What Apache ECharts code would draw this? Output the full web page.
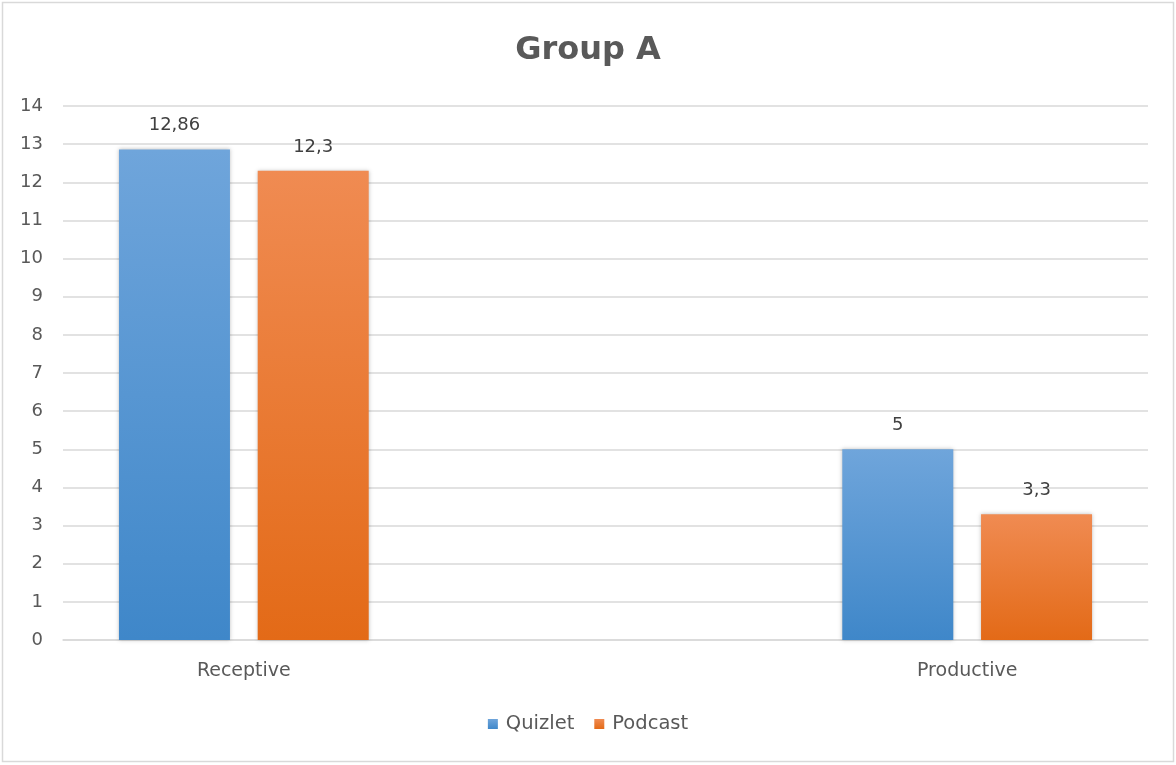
<!DOCTYPE html>
<html>
<head>
<meta charset="utf-8">
<style>
  html, body { margin: 0; padding: 0; background: #fff; }
  #chart { width: 1176px; height: 765px; }
</style>
<script src="https://cdn.jsdelivr.net/npm/echarts@6/dist/echarts.min.js"></script>
</head>
<body>
<div id="chart"></div>
<script>
// Categories (the middle slot is an empty spacer category)
const categories = ['Receptive', '', 'Productive'];
const quizlet = [12.86, null, 5];
const podcast = [12.3, null, 3.3];
const seriesNames = ['Quizlet', 'Podcast'];

const FONT = 'DejaVu Sans';

function grad(top, bottom) {
  return new echarts.graphic.LinearGradient(0, 0, 0, 1, [
    { offset: 0, color: top },
    { offset: 1, color: bottom }
  ]);
}

const labelStyle = {
  show: true,
  position: 'top',
  distance: 15,
  color: '#404040',
  fontFamily: FONT,
  fontSize: 18,
  formatter: p => String(p.value).replace('.', ',')
};

const chart = echarts.init(document.getElementById('chart'));
chart.setOption({
  backgroundColor: '#fff',
  animation: false,
  graphic: [{
    type: 'rect',
    shape: { x: 2.5, y: 2.5, width: 1171, height: 759 },
    style: { fill: 'none', stroke: '#d9d9d9', lineWidth: 1.5 },
    silent: true
  }],
  title: {
    text: 'Group A',
    left: 'center',
    top: 30,
    textStyle: { fontFamily: FONT, fontSize: 32, fontWeight: 'bold', color: '#595959' }
  },
  legend: {
    data: seriesNames,
    bottom: 26,
    left: 'center',
    icon: 'rect',
    itemWidth: 10,
    itemHeight: 10,
    itemGap: 20,
    textStyle: { fontFamily: FONT, fontSize: 19.5, color: '#595959', padding: [0, 0, 0, 3] }
  },
  grid: { left: 63, right: 28, top: 106, bottom: 125, containLabel: false },
  xAxis: {
    type: 'category',
    data: categories,
    axisTick: { show: false },
    axisLine: { lineStyle: { color: '#d9d9d9', width: 1.5 } },
    axisLabel: { fontFamily: FONT, fontSize: 19, color: '#595959', margin: 22 }
  },
  yAxis: {
    type: 'value',
    min: 0,
    max: 14,
    interval: 1,
    axisLine: { show: false },
    axisTick: { show: false },
    splitLine: { lineStyle: { color: '#d9d9d9', width: 1.5 } },
    axisLabel: { fontFamily: FONT, fontSize: 18, color: '#595959', margin: 20 }
  },
  series: [
    {
      name: 'Quizlet',
      type: 'bar',
      data: quizlet,
      barWidth: 111,
      barGap: '25%',
      itemStyle: {
        color: grad('#6fa5db', '#3f87c9'),
        shadowBlur: 4,
        shadowColor: 'rgba(0,0,0,0.25)'
      },
      label: labelStyle
    },
    {
      name: 'Podcast',
      type: 'bar',
      data: podcast,
      barWidth: 111,
      barGap: '25%',
      itemStyle: {
        color: grad('#f08b52', '#e36a17'),
        shadowBlur: 4,
        shadowColor: 'rgba(0,0,0,0.25)'
      },
      label: labelStyle
    }
  ]
});
</script>
</body>
</html>
